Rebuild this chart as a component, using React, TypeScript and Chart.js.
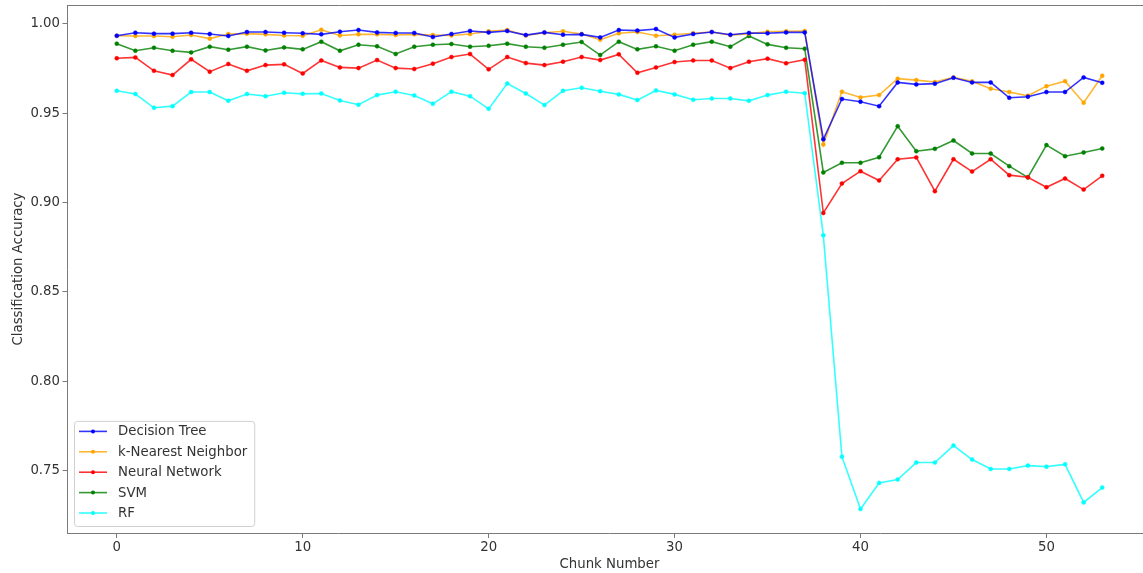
import { useEffect, useRef } from "react";
import { Chart, registerables } from "chart.js";

Chart.register(...registerables);

// Chunk index along the stream
const chunks = [
  0, 1, 2, 3, 4, 5, 6, 7, 8, 9, 10, 11, 12, 13, 14, 15, 16, 17, 18, 19, 20, 21, 22, 23, 24, 25, 26,
  27, 28, 29, 30, 31, 32, 33, 34, 35, 36, 37, 38, 39, 40, 41, 42, 43, 44, 45, 46, 47, 48, 49, 50, 51,
  52, 53,
];

const decisionTree = [
  0.9934, 0.9951, 0.9946, 0.9946, 0.9951, 0.9944, 0.9933, 0.9955, 0.9955, 0.9951, 0.9948, 0.9942,
  0.9957, 0.9966, 0.9953, 0.995, 0.995, 0.9927, 0.9944, 0.9961, 0.9953, 0.9961, 0.9938, 0.9953,
  0.994, 0.9942, 0.9925, 0.9966, 0.9963, 0.9972, 0.9925, 0.9944, 0.9955, 0.994, 0.995, 0.9948,
  0.9953, 0.9953, 0.9355, 0.958, 0.9565, 0.954, 0.9673, 0.9662, 0.9666, 0.9699, 0.9673, 0.9673,
  0.9587, 0.9593, 0.9619, 0.9619, 0.9701, 0.9671,
];

const kNearest = [
  0.9934, 0.9933, 0.9933, 0.9929, 0.9938, 0.9918, 0.9944, 0.9946, 0.9942, 0.9936, 0.9934, 0.9968,
  0.9936, 0.9942, 0.9942, 0.9938, 0.9942, 0.9938, 0.9936, 0.9944, 0.9959, 0.9966, 0.9936, 0.9951,
  0.9959, 0.9944, 0.9912, 0.9948, 0.9955, 0.9934, 0.994, 0.9948, 0.9955, 0.9938, 0.9946, 0.9957,
  0.9959, 0.9961, 0.9325, 0.9621, 0.9589, 0.9602, 0.9694, 0.9686, 0.9675, 0.9701, 0.9679, 0.9638,
  0.9619, 0.9598, 0.9652, 0.968, 0.9559, 0.971,
];

const neuralNetwork = [
  0.9808, 0.9813, 0.9738, 0.9714, 0.9802, 0.9733, 0.9776, 0.9738, 0.977, 0.9774, 0.9723, 0.9796,
  0.9757, 0.9753, 0.9798, 0.9753, 0.9748, 0.9778, 0.9815, 0.9832, 0.9746, 0.9815, 0.9781, 0.977,
  0.9789, 0.9815, 0.9798, 0.983, 0.9727, 0.9757, 0.9787, 0.9796, 0.9796, 0.9753, 0.9789, 0.9806,
  0.978, 0.98, 0.8942, 0.9107, 0.9176, 0.9124, 0.9243, 0.9253, 0.9064, 0.9243, 0.9174, 0.9243,
  0.9154, 0.9142, 0.9086, 0.9135, 0.9073, 0.915,
];

const svm = [
  0.989, 0.985, 0.9867, 0.985, 0.9841, 0.9873, 0.9856, 0.9873, 0.9852, 0.9869, 0.9858, 0.9901,
  0.985, 0.9884, 0.9875, 0.9832, 0.9873, 0.9884, 0.9888, 0.9873, 0.9878, 0.989, 0.9873, 0.9867,
  0.9884, 0.9899, 0.9826, 0.9901, 0.9858, 0.9875, 0.985, 0.9884, 0.9901, 0.9873, 0.9933, 0.9886,
  0.9867, 0.9862, 0.9169, 0.9223, 0.9223, 0.9254, 0.9428, 0.9288, 0.9301, 0.9348, 0.9275, 0.9275,
  0.9204, 0.9141, 0.9322, 0.926, 0.9281, 0.9303,
];

const randomForest = [
  0.9626, 0.9608, 0.9531, 0.954, 0.9619, 0.9619, 0.957, 0.9608, 0.9596, 0.9615, 0.9609, 0.9611,
  0.9572, 0.9548, 0.9602, 0.9621, 0.96, 0.9553, 0.9621, 0.9596, 0.9525, 0.9667, 0.9611, 0.9546,
  0.9626, 0.9643, 0.9624, 0.9606, 0.9574, 0.9628, 0.9606, 0.9576, 0.9583, 0.9583, 0.957, 0.9602,
  0.9621, 0.9613, 0.8817, 0.7578, 0.7285, 0.7431, 0.745, 0.7545, 0.7545, 0.764, 0.7562, 0.7509,
  0.7509, 0.7528, 0.7522, 0.7535, 0.7322, 0.7405,
];

const seriesNames = ["Decision Tree", "k-Nearest Neighbor", "Neural Network", "SVM", "RF"];
const seriesColors: [number, number, number][] = [
  [0, 0, 255],
  [255, 165, 0],
  [255, 0, 0],
  [0, 128, 0],
  [0, 255, 255],
];
const seriesValues = [decisionTree, kNearest, neuralNetwork, svm, randomForest];

const xTicks = [0, 10, 20, 30, 40, 50];
const yTicks = [0.75, 0.8, 0.85, 0.9, 0.95, 1.0];

const FONT = "'DejaVu Sans', sans-serif";
const FONT_SIZE = 13.3;
const TEXT = "#333333";
const SPINE = "#7a7a7a";

const rgba = (c: [number, number, number], a: number) => `rgba(${c[0]},${c[1]},${c[2]},${a})`;

// axis limits padded by 5% of the data span on each side
const allValues = seriesValues.flat();
const yLo = Math.min(...allValues);
const yHi = Math.max(...allValues);
const yPad = (yHi - yLo) * 0.05;
const xLo = chunks[0];
const xHi = chunks[chunks.length - 1];
const xPad = (xHi - xLo) * 0.05;

// top frame line and a boxed legend in the lower-left corner
// (the right edge of the frame lies just past the visible canvas)
const framePlugin = {
  id: "frameAndLegend",
  afterDraw(chart: any) {
    const { ctx, chartArea } = chart;
    ctx.save();
    ctx.strokeStyle = SPINE;
    ctx.lineWidth = 1;
    ctx.beginPath();
    ctx.moveTo(chartArea.left, Math.round(chartArea.top) + 0.5);
    ctx.lineTo(chart.width, Math.round(chartArea.top) + 0.5);
    ctx.stroke();

    const datasets = chart.data.datasets;
    ctx.font = `${FONT_SIZE}px ${FONT}`;
    const textW = Math.max(...datasets.map((d: any) => ctx.measureText(d.label).width));
    const rowH = 20.4;
    const boxW = 44 + textW + 7;
    const boxH = rowH * (datasets.length - 1) + 23.5;
    const x0 = chartArea.left + 6.5;
    const y0 = chartArea.bottom - 7 - boxH;

    ctx.beginPath();
    ctx.roundRect(x0 + 0.5, y0 + 0.5, boxW, boxH, 3);
    ctx.fillStyle = "rgba(255,255,255,0.8)";
    ctx.fill();
    ctx.strokeStyle = "#d0d0d0";
    ctx.stroke();

    datasets.forEach((d: any, i: number) => {
      const cy = y0 + 10.5 + i * rowH;
      ctx.strokeStyle = d.borderColor;
      ctx.lineWidth = 1.6;
      ctx.beginPath();
      ctx.moveTo(x0 + 5, cy);
      ctx.lineTo(x0 + 33, cy);
      ctx.stroke();
      ctx.fillStyle = d.pointBackgroundColor;
      ctx.beginPath();
      ctx.arc(x0 + 19, cy, 2, 0, Math.PI * 2);
      ctx.fill();
      ctx.fillStyle = TEXT;
      ctx.textBaseline = "middle";
      ctx.textAlign = "left";
      ctx.fillText(d.label, x0 + 44, cy + 0.5);
    });
    ctx.restore();
  },
};

export default function App() {
  const canvasRef = useRef<HTMLCanvasElement | null>(null);

  useEffect(() => {
    const canvas = canvasRef.current;
    if (!canvas) return;

    const datasets = seriesNames.map((name, s) => ({
      label: name,
      data: chunks.map((c, i) => ({ x: c, y: seriesValues[s][i] })),
      borderColor: rgba(seriesColors[s], 0.8),
      backgroundColor: rgba(seriesColors[s], 1),
      pointBackgroundColor: rgba(seriesColors[s], 1),
      pointBorderColor: rgba(seriesColors[s], 1),
      borderWidth: 1.6,
      pointRadius: 2,
      pointBorderWidth: 0.5,
      tension: 0,
      fill: false,
    }));

    const chart = new Chart(canvas, {
      type: "line",
      data: { datasets },
      plugins: [framePlugin],
      options: {
        animation: false,
        responsive: false,
        devicePixelRatio: 1,
        layout: { padding: { left: 0, right: 0, top: 5, bottom: 0 } },
        plugins: {
          legend: { display: false },
          tooltip: { enabled: false },
        },
        scales: {
          x: {
            type: "linear",
            min: xLo - xPad,
            max: xHi + xPad,
            afterBuildTicks: (scale: any) => {
              scale.ticks = xTicks.map((v) => ({ value: v }));
            },
            afterFit: (scale: any) => {
              scale.height = 40;
              scale.paddingLeft = 0;
              scale.paddingRight = 0;
            },
            grid: {
              drawOnChartArea: false,
              drawTicks: true,
              tickLength: 5,
              color: SPINE,
            },
            border: { display: true, color: SPINE, width: 1 },
            ticks: {
              color: TEXT,
              font: { family: FONT, size: FONT_SIZE },
              padding: 2,
              maxRotation: 0,
              callback: (v: any) => String(v),
            },
            title: {
              display: true,
              text: "Chunk Number",
              color: TEXT,
              font: { family: FONT, size: FONT_SIZE },
              padding: { top: 0, bottom: 0 },
            },
          },
          y: {
            type: "linear",
            min: yLo - yPad,
            max: yHi + yPad,
            afterBuildTicks: (scale: any) => {
              scale.ticks = yTicks.map((v) => ({ value: v }));
            },
            afterFit: (scale: any) => {
              scale.width = 67.5;
              scale.paddingTop = 0;
              scale.paddingBottom = 0;
            },
            grid: {
              drawOnChartArea: false,
              drawTicks: true,
              tickLength: 5,
              color: SPINE,
            },
            border: { display: true, color: SPINE, width: 1 },
            ticks: {
              color: TEXT,
              font: { family: FONT, size: FONT_SIZE },
              padding: 2.5,
              callback: (v: any) => Number(v).toFixed(2),
            },
            title: {
              display: true,
              text: "Classification Accuracy",
              color: TEXT,
              font: { family: FONT, size: FONT_SIZE },
              padding: { top: 11, bottom: 0 },
            },
          },
        },
      },
    });

    return () => chart.destroy();
  }, []);

  return (
    <div
      style={{
        position: "fixed",
        left: 0,
        top: 0,
        width: 1143,
        height: 573,
        overflow: "hidden",
        background: "#ffffff",
      }}
    >
      <canvas ref={canvasRef} width={1156} height={573} style={{ display: "block" }} />
    </div>
  );
}
